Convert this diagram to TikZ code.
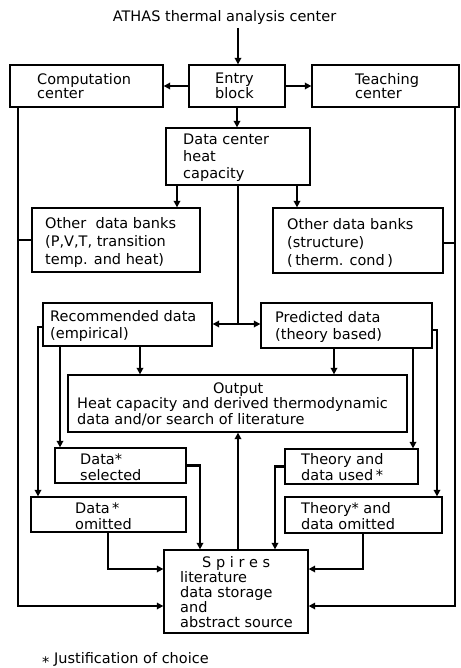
\documentclass[tikz,border=0pt]{standalone}
\usepackage{fontspec}
\setmainfont{DejaVu Sans}
\usetikzlibrary{arrows.meta}
\newcommand\jstar{*}
\begin{document}
\begin{tikzpicture}[x=1pt,y=-1pt,
  box/.style={draw, line width=1.3pt, inner sep=0pt},
  txt/.style={anchor=west, align=left, inner sep=0pt, font=\fontsize{14.5}{#1}\selectfont},
  txt/.default=15,
  conn/.style={line width=2.3pt},
  arr/.style={conn, -{Triangle[length=6.5pt,width=6.5pt]}},
]
\useasboundingbox (0,0) rectangle (460,668);

% title
\node[font=\fontsize{14.5}{15}\selectfont, anchor=base, inner sep=0pt] (title) at (224.5,22) {ATHAS thermal analysis center};
\coordinate (top) at (238,28);

% boxes
\node[box, minimum width=153pt, minimum height=42pt] (comp) at (86.5,86) {};
\node[box, minimum width=96pt, minimum height=42pt] (entry) at (237,86) {};
\node[box, minimum width=147pt, minimum height=42pt] (teach) at (385.5,86) {};
\node[box, minimum width=144pt, minimum height=57pt] (datac) at (238,156.5) {};
\node[box, minimum width=168pt, minimum height=64pt] (odbL) at (116,240) {};
\node[box, minimum width=170pt, minimum height=65pt] (odbR) at (358,240.5) {};
\node[box, minimum width=169pt, minimum height=43pt] (rec) at (127.5,324.5) {};
\node[box, minimum width=171pt, minimum height=45pt] (pred) at (346.5,325.5) {};
\node[box, minimum width=339pt, minimum height=57pt] (out) at (237.5,403.5) {};
\node[box, minimum width=131pt, minimum height=35pt] (dsel) at (120.5,465.5) {};
\node[box, minimum width=133pt, minimum height=35pt] (tdu) at (351.5,466.5) {};
\node[box, minimum width=155pt, minimum height=35pt] (dom) at (108.5,514.5) {};
\node[box, minimum width=157pt, minimum height=36pt] (tdom) at (363.5,515) {};
\node[box, minimum width=144pt, minimum height=83pt] (spires) at (236,591.5) {};

% texts
\node[txt=14.5] (compT) at (37,86) {Computation\\center};
\node[txt=14.5] (entryT) at (215,86) {Entry\\block};
\node[txt=14.5] (teachT) at (355,86) {Teaching\\center};
\node[txt=17] (datacT) at (183,158) {Data center\\heat\\capacity};
\node[txt=18] (odbLT) at (45,242) {Other\ \ data banks\\(P,V,T, transition\\temp. and heat)};
\node[txt=18] (odbRT) at (287,243) {Other data banks\\(structure)\\(\,therm. cond\,)};
\node[txt=16.5] (recT) at (50,326) {Recommended data\\(empirical)};
\node[txt=16.5] (predT) at (275,327) {Predicted data\\(theory based)};
\node[txt=15.5] (outT) at (77,404) {\makebox[322pt][c]{Output}\\Heat capacity and derived thermodynamic\\data and/or search of literature};
\node[txt=15.5] (dselT) at (80,467) {Data\jstar\\selected};
\node[txt=15.5] (tduT) at (301,467) {Theory and\\data used\,\jstar};
\node[txt=15.5] (domT) at (75,516) {Data\,\jstar\\omitted};
\node[txt=15.5] (tdomT) at (301,516) {Theory\jstar\ and\\data omitted};
\node[txt=15] (spiresT) at (180,592) {\makebox[112pt][c]{S p i r e s}\\literature\\data storage\\and\\abstract source};

% footnote
\node[font=\fontsize{14.5}{15}\selectfont, anchor=base west, inner sep=0pt] (foot) at (42,663) {\raisebox{-0.28em}{*}\ Justification of choice};

% connectors
\draw[arr] (top) -- (top |- entry.north);
\draw[arr] (entry.west) -- (comp.east);
\draw[arr] (entry.east) -- (teach.west);
\draw[arr] (entry.south) -- (entry.south |- datac.north);
\draw[arr] (177,0 |- datac.south) -- (177,0 |- odbL.north);
\draw[arr] (297,0 |- datac.south) -- (297,0 |- odbR.north);
\coordinate (j1) at (238,324);
\draw[conn] (238,0 |- datac.south) -- (j1);
\draw[arr] (j1) -- (j1 -| rec.east);
\draw[arr] (j1) -- (j1 -| pred.west);

\coordinate (lc) at (18,606);
\coordinate (rc) at (455,606);
\draw[arr] (18,0 |- comp.south) -- (lc) -- (lc -| spires.west);
\draw[conn] (18,0 |- odbL.west) -- (odbL.west);
\draw[arr] (455,0 |- teach.south) -- (rc) -- (rc -| spires.east);
\draw[conn] (455,243) -- (455,243 -| odbR.east);

\draw[arr] (rec.west |- 0,327) -- (38,327) -- (38,0 |- dom.north);
\draw[arr] (pred.east |- 0,330) -- (437,330) -- (437,0 |- tdom.north);
\draw[arr] (60,0 |- rec.south) -- (60,0 |- dsel.north);
\draw[arr] (140,0 |- rec.south) -- (140,0 |- out.north);
\draw[arr] (334,0 |- pred.south) -- (334,0 |- out.north);
\draw[arr] (413,0 |- pred.south) -- (413,0 |- tdu.north);

\draw[arr] (dsel.east) -- (dsel.east -| 200,0) -- (200,0 |- spires.north);
\draw[arr] (tdu.west) -- (tdu.west -| 275,0) -- (275,0 |- spires.north);
\coordinate (ld) at (108,569);
\coordinate (rd) at (363,569);
\draw[arr] (108,0 |- dom.south) -- (ld) -- (ld -| spires.west);
\draw[arr] (363,0 |- tdom.south) -- (rd) -- (rd -| spires.east);
\draw[arr] (238,0 |- spires.north) -- (238,0 |- out.south);
\end{tikzpicture}
\end{document}
